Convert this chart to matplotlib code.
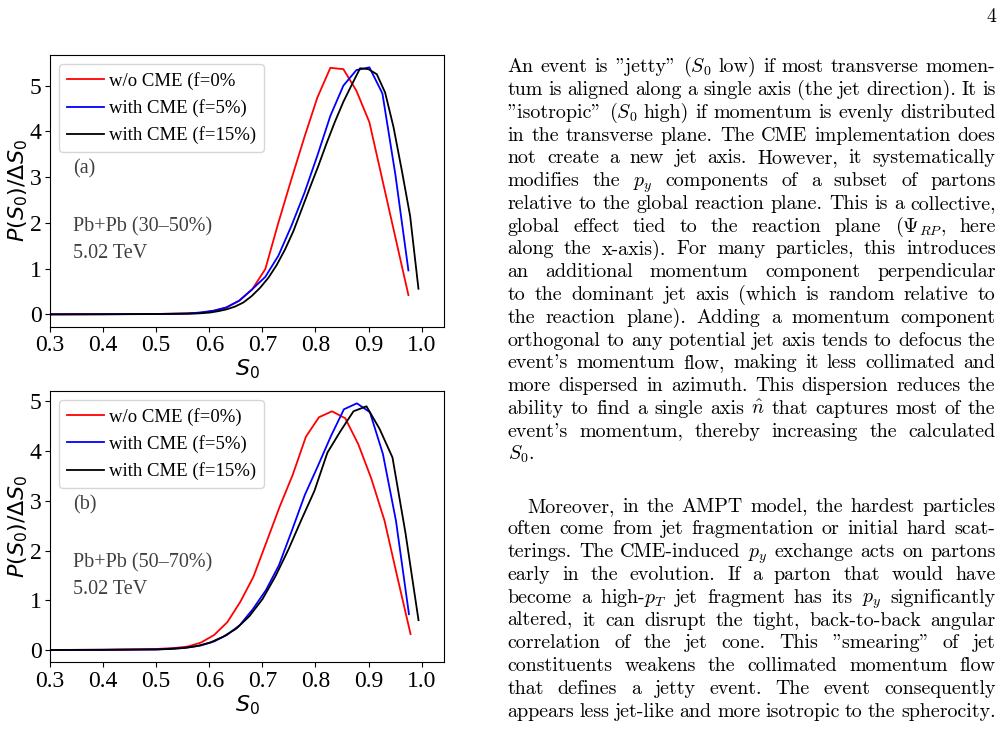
import matplotlib
matplotlib.use("Agg")
import matplotlib.pyplot as plt
from matplotlib.transforms import IdentityTransform

# ---- data ----
# (a) Pb+Pb 30-50%
xa_red = [0.30, 0.40, 0.50, 0.5585, 0.583, 0.6075, 0.632, 0.6565, 0.681, 0.7055, 0.730,
          0.7545, 0.779, 0.8035, 0.828, 0.8525, 0.877, 0.9015, 0.926, 0.9505, 0.975]
ya_red = [0.0, 0.003, 0.008, 0.02, 0.035, 0.07, 0.15, 0.3, 0.55, 0.99, 2.0,
          2.95, 3.87, 4.74, 5.39, 5.36, 4.89, 4.2, 2.94, 1.68, 0.42]
xa_blue = [0.30, 0.40, 0.50, 0.5585, 0.583, 0.6075, 0.632, 0.6565, 0.681, 0.7055, 0.730,
           0.7545, 0.779, 0.8035, 0.828, 0.8525, 0.877, 0.9015, 0.926, 0.9505, 0.975]
ya_blue = [0.0, 0.003, 0.008, 0.02, 0.04, 0.08, 0.15, 0.3, 0.55, 0.82, 1.28,
           1.93, 2.65, 3.47, 4.34, 5.0, 5.34, 5.4, 4.83, 3.05, 0.96]
xa_black = [0.30, 0.40, 0.50, 0.570, 0.5857, 0.6014, 0.6171, 0.6328, 0.6485, 0.6642, 0.6799,
            0.6956, 0.7113, 0.727, 0.7427, 0.7584, 0.7741, 0.7898, 0.8055, 0.8212, 0.8369,
            0.8526, 0.8683, 0.884, 0.8997, 0.9154, 0.9311, 0.9468, 0.9625, 0.9782, 0.9939]
ya_black = [0.0, 0.002, 0.006, 0.015, 0.025, 0.04, 0.07, 0.11, 0.17, 0.26, 0.4,
            0.58, 0.8, 1.08, 1.42, 1.82, 2.3, 2.78, 3.25, 3.75, 4.22,
            4.65, 5.02, 5.38, 5.36, 5.25, 4.85, 4.1, 3.15, 2.15, 0.56]

# (b) Pb+Pb 50-70%
xb_red = [0.30, 0.40, 0.50, 0.535, 0.56, 0.5845, 0.609, 0.634, 0.6585, 0.683, 0.708,
          0.7325, 0.757, 0.782, 0.8065, 0.831, 0.856, 0.8805, 0.905, 0.93, 0.9545, 0.979]
yb_red = [0.0, 0.005, 0.02, 0.04, 0.07, 0.15, 0.3, 0.56, 0.97, 1.47, 2.18,
          2.88, 3.52, 4.29, 4.68, 4.8, 4.66, 4.14, 3.45, 2.6, 1.45, 0.32]
xb_blue = [0.30, 0.40, 0.50, 0.535, 0.5595, 0.584, 0.6085, 0.633, 0.6575, 0.682, 0.7065,
           0.731, 0.7555, 0.78, 0.8045, 0.829, 0.8535, 0.878, 0.9025, 0.927, 0.9515, 0.976]
yb_blue = [0.0, 0.003, 0.01, 0.03, 0.05, 0.09, 0.17, 0.3, 0.5, 0.82, 1.2,
           1.7, 2.4, 3.12, 3.7, 4.3, 4.84, 4.96, 4.78, 3.94, 2.6, 0.72]
xb_black = [0.30, 0.40, 0.50, 0.5285, 0.553, 0.5775, 0.602, 0.6265, 0.651, 0.6755, 0.70,
            0.7245, 0.749, 0.7735, 0.798, 0.8225, 0.847, 0.8715, 0.896, 0.9205, 0.945,
            0.9695, 0.994]
yb_black = [0.0, 0.003, 0.01, 0.02, 0.04, 0.08, 0.15, 0.27, 0.43, 0.68, 1.02,
            1.48, 2.02, 2.62, 3.2, 3.97, 4.4, 4.8, 4.9, 4.45, 3.87,
            2.35, 0.6]

labels_a = ["w/o CME (f=0%", "with CME (f=5%)", "with CME (f=15%)"]
labels_b = ["w/o CME (f=0%)", "with CME (f=5%)", "with CME (f=15%)"]
colors = ["red", "blue", "black"]

W, H = 1003, 729
fig = plt.figure(figsize=(W / 100, H / 100), dpi=100)

serif = "Liberation Serif"


def panel(rect, curves, labels, tag, system):
    ax = fig.add_axes(rect)
    for (x, y), lab, c in zip(curves, labels, colors):
        ax.plot(x, y, color=c, lw=1.3, label=lab)
    ax.set_xlim(0.3, 1.042)
    ax.set_xticks([0.3, 0.4, 0.5, 0.6, 0.7, 0.8, 0.9, 1.0])
    ax.set_yticks([0, 1, 2, 3, 4, 5])
    for t in ax.get_xticklabels() + ax.get_yticklabels():
        t.set_fontfamily(serif)
        t.set_fontsize(17)
    ax.tick_params(pad=2.5)
    ax.set_xlabel("$S_0$", fontsize=16, labelpad=1)
    ax.set_ylabel(r"$P(S_0)/\Delta S_0$", fontsize=16, labelpad=0)
    ax.legend(loc="upper left", prop={"family": serif, "size": 13.5},
              handletextpad=0.25)
    kw = dict(transform=ax.transAxes, family=serif, fontsize=14.5, color="0.25",
              va="center")
    ax.text(0.058, 0.58, tag, **kw)
    ax.text(0.058, 0.367, system, **kw)
    ax.text(0.058, 0.268, "5.02 TeV", **kw)
    return ax


panel([50 / W, 1 - 326.7 / H, 394 / W, 271.7 / H],
      [(xa_red, ya_red), (xa_blue, ya_blue), (xa_black, ya_black)],
      labels_a, "(a)", "Pb+Pb (30\u201350%)")
panel([50 / W, 1 - 662.3 / H, 394 / W, 271.3 / H],
      [(xb_red, yb_red), (xb_blue, yb_blue), (xb_black, yb_black)],
      labels_b, "(b)", "Pb+Pb (50\u201370%)")

# ---- page text on the right ----
para1 = [
    'An event is "jetty" ($S_0$ low) if most transverse momen-',
    'tum is aligned along a single axis (the jet direction). It is',
    '"isotropic" ($S_0$ high) if momentum is evenly distributed',
    'in the transverse plane. The CME implementation does',
    'not create a new jet axis. However, it systematically',
    'modifies the $p_y$ components of a subset of partons',
    'relative to the global reaction plane. This is a collective,',
    r'global effect tied to the reaction plane ($\Psi_{RP}$, here',
    'along the x-axis). For many particles, this introduces',
    'an additional momentum component perpendicular',
    'to the dominant jet axis (which is random relative to',
    'the reaction plane). Adding a momentum component',
    'orthogonal to any potential jet axis tends to defocus the',
    "event's momentum flow, making it less collimated and",
    'more dispersed in azimuth. This dispersion reduces the',
    r'ability to find a single axis $\hat{n}$ that captures most of the',
    "event's momentum, thereby increasing the calculated",
    '$S_0$.',
]
para2 = [
    'Moreover, in the AMPT model, the hardest particles',
    'often come from jet fragmentation or initial hard scat-',
    'terings. The CME-induced $p_y$ exchange acts on partons',
    'early in the evolution. If a parton that would have',
    'become a high-$p_T$ jet fragment has its $p_y$ significantly',
    'altered, it can disrupt the tight, back-to-back angular',
    'correlation of the jet cone. This "smearing" of jet',
    'constituents weakens the collimated momentum flow',
    'that defines a jetty event. The event consequently',
    'appears less jet-like and more isotropic to the spherocity.',
]

body = dict(family="cmr10", math_fontfamily="cm", fontsize=14.4, color="black",
            transform=IdentityTransform(), va="baseline", ha="left")
renderer = fig.canvas.get_renderer()
left, right = 507.7, 995.5


def put_line(line, x0, x1, ybase, justify=True):
    words = line.split(" ")
    texts = [fig.text(0, 0, w, **body) for w in words]
    widths = [t.get_window_extent(renderer=renderer).width for t in texts]
    if justify and len(words) > 1:
        gap = (x1 - x0 - sum(widths)) / (len(words) - 1)
    else:
        gap = 6.4
    x = x0
    for t, w in zip(texts, widths):
        t.set_position((x, H - ybase))
        x += w + gap


step = 22.77
for i, line in enumerate(para1):
    put_line(line, left, right, 72.3 + i * step, justify=(i < len(para1) - 1))
for i, line in enumerate(para2):
    x0 = left + 20 if i == 0 else left
    put_line(line, x0, right, 511.7 + i * step)

fig.text(996, H - 22, "4", **dict(body, ha="right"))

fig.savefig("out.png", dpi=100)
